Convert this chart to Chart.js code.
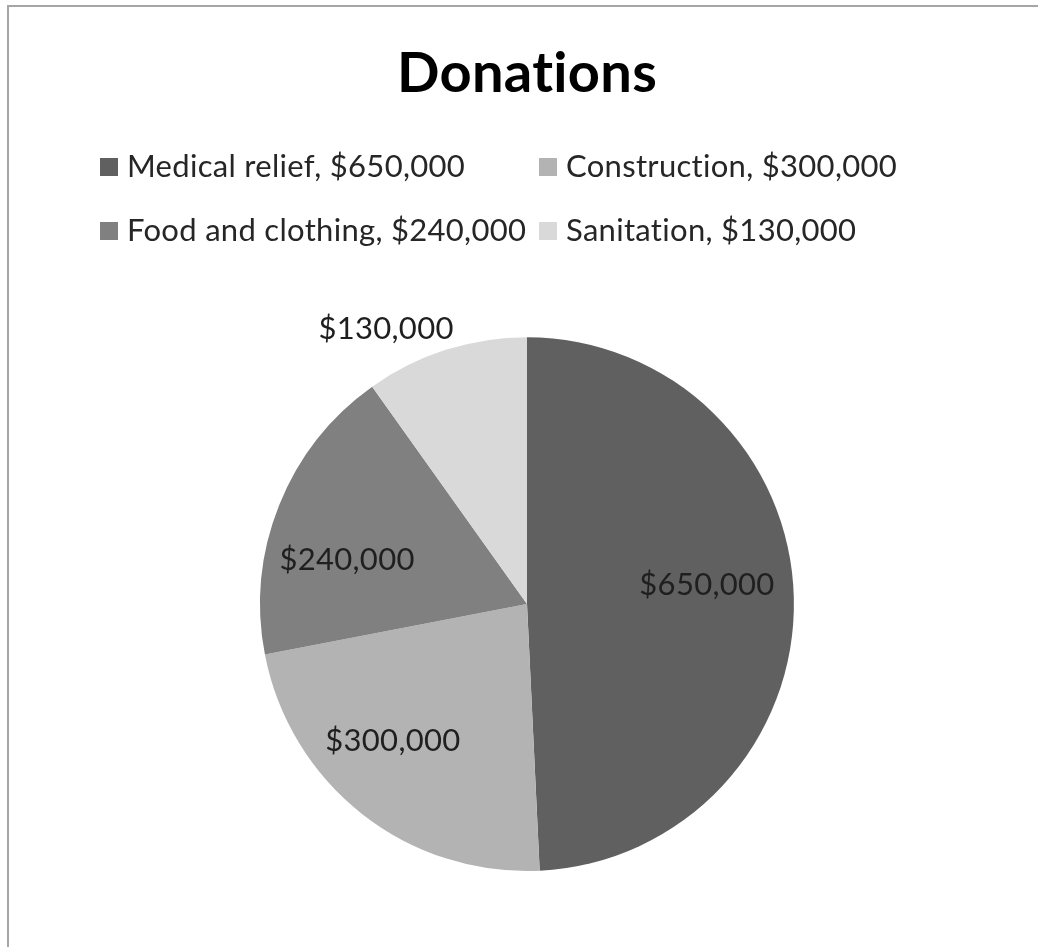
<!DOCTYPE html>
<html lang="en">
<head>
    <meta charset="UTF-8">
    <title>Donations</title>
    <script src="https://cdn.jsdelivr.net/npm/chart.js"></script>
    <style>
        body {
            margin: 0;
            background-color: #ffffff;
        }

        .frame {
            position: absolute;
            left: 7px;
            top: 5px;
            width: 1100px;
            height: 1000px;
            border-top: 2px solid #a6a6a6;
            border-left: 2px solid #a6a6a6;
            pointer-events: none;
        }

        canvas {
            display: block;
        }
    </style>
</head>
<body>
    <canvas id="donationsPie" width="1038" height="947"></canvas>
    <div class="frame"></div>

    <script>
        const categories = ['Medical relief', 'Construction', 'Food and clothing', 'Sanitation'];
        const amounts = [650000, 300000, 240000, 130000];
        const sliceColors = ['#606060', '#b3b3b3', '#808080', '#d9d9d9'];

        const fontFamily = 'Lato, "Open Sans", sans-serif';

        function formatMoney(v) {
            return '$' + v.toLocaleString('en-US');
        }

        // small letter spacing: widens Lato a bit and kills the "ti" ligature
        const textSpacing = {
            id: 'textSpacing',
            beforeDraw(chart) {
                chart.ctx.letterSpacing = '0.3px';
            }
        };

        // Excel style legend: 2 columns, aligned boxes
        const gridLegend = {
            id: 'gridLegend',
            afterDraw(chart) {
                const ctx = chart.ctx;
                const colX = [100, 539];
                const rowY = [167, 231];
                ctx.save();
                ctx.font = '31px ' + fontFamily;
                ctx.textBaseline = 'middle';
                ctx.textAlign = 'left';
                categories.forEach((name, i) => {
                    const x = colX[i % 2];
                    const y = rowY[Math.floor(i / 2)];
                    ctx.fillStyle = sliceColors[i];
                    ctx.fillRect(x, y - 9, 18, 18);
                    ctx.fillStyle = '#262626';
                    ctx.fillText(name + ', ' + formatMoney(amounts[i]), x + 27, y);
                });
                ctx.restore();
            }
        };

        // value labels: spot = fraction along the slice + radius factor (last one sits outside)
        const sliceLabels = {
            id: 'sliceLabels',
            afterDatasetsDraw(chart) {
                const ctx = chart.ctx;
                const meta = chart.getDatasetMeta(0);
                const along = [0.474, 0.575, 0.376, 0.234];
                const radial = [0.678, 0.719, 0.694, 1.157];
                ctx.save();
                ctx.font = '31px ' + fontFamily;
                ctx.textBaseline = 'middle';
                ctx.textAlign = 'center';
                ctx.fillStyle = '#1f1f1f';
                meta.data.forEach((arc, i) => {
                    const p = arc.getProps(['x', 'y', 'startAngle', 'endAngle', 'outerRadius'], true);
                    const a = p.startAngle + (p.endAngle - p.startAngle) * along[i];
                    const r = p.outerRadius * radial[i];
                    ctx.fillText(formatMoney(amounts[i]), p.x + Math.cos(a) * r, p.y + Math.sin(a) * r);
                });
                ctx.restore();
            }
        };

        const ctx = document.getElementById('donationsPie').getContext('2d');
        new Chart(ctx, {
            type: 'pie',
            data: {
                labels: categories,
                datasets: [{
                    label: 'Donations',
                    data: amounts,
                    backgroundColor: sliceColors,
                    borderWidth: 0
                }]
            },
            options: {
                responsive: false,
                animation: false,
                layout: {
                    padding: { left: 16, right: 0, top: 0, bottom: 76 }
                },
                plugins: {
                    legend: { display: false },
                    tooltip: { enabled: false },
                    title: {
                        display: true,
                        text: 'Donations',
                        color: '#000000',
                        font: { family: fontFamily, size: 56, weight: 'bold', lineHeight: 1.2 },
                        padding: { top: 40, bottom: 230 }
                    }
                }
            },
            plugins: [textSpacing, sliceLabels, gridLegend]
        });
    </script>
</body>
</html>
